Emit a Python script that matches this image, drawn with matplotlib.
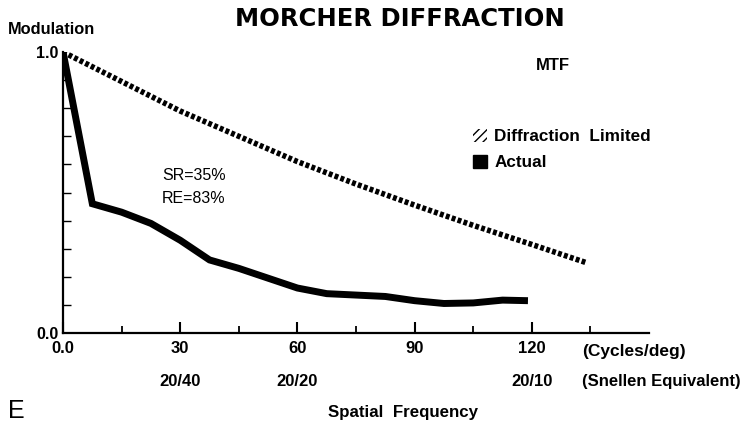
import matplotlib
matplotlib.use('Agg')
import matplotlib.pyplot as plt
import matplotlib.patches as mpatches
import matplotlib.transforms as mtransforms

# data
freq_diff = [0, 15, 30, 45, 60, 75, 90, 105, 120, 134]
mtf_diff = [1.0, 0.895, 0.79, 0.70, 0.61, 0.53, 0.455, 0.383, 0.315, 0.25]

freq_actual = [0, 7.5, 15, 22.5, 30, 37.5, 45, 52.5, 60, 67.5, 75, 82.5, 90, 97.5, 105, 112.5, 119]
mtf_actual = [1.0, 0.46, 0.43, 0.39, 0.33, 0.26, 0.23, 0.195, 0.16, 0.14, 0.135, 0.13, 0.115,
              0.105, 0.107, 0.117, 0.115]

xticks = [0, 30, 60, 90, 120]
xtick_labels = ['0.0', '30', '60', '90', '120']
snellen_pos = [30, 60, 120]
snellen_labels = ['20/40', '20/20', '20/10']

sans = ['Liberation Sans', 'DejaVu Sans']
bold = {'family': sans, 'weight': 'bold'}

fig = plt.figure(figsize=(7.53, 4.30), dpi=100)
axe = fig.add_axes([0.0837, 0.2256, 0.7783, 0.6534])

axe.plot(freq_diff, mtf_diff, color='black', linewidth=4.0, dashes=(0.7, 0.42),
         dash_capstyle='butt')
axe.plot(freq_actual, mtf_actual, color='black', linewidth=5.0,
         solid_joinstyle='miter', solid_capstyle='butt')

axe.set_xlim(0, 150)
axe.set_ylim(0, 1.0)
for s in ['top', 'right']:
    axe.spines[s].set_visible(False)
axe.spines['left'].set_linewidth(1.6)
axe.spines['bottom'].set_linewidth(1.6)

axe.set_xticks(xticks)
axe.set_xticklabels(xtick_labels, fontdict=bold, fontsize=12)
axe.set_xticks([15, 45, 75, 105, 135], minor=True)
axe.tick_params(axis='x', which='major', direction='in', length=8, width=1.5, pad=6)
axe.tick_params(axis='x', which='minor', direction='in', length=5, width=1.3)

axe.set_yticks([0.0, 1.0])
axe.set_yticklabels(['0.0', '1.0'], fontdict=bold, fontsize=11.5)
axe.set_yticks([0.1 * i for i in range(1, 10)], minor=True)
axe.tick_params(axis='y', which='major', direction='in', length=0, pad=3)
axe.tick_params(axis='y', which='minor', direction='in', length=6, width=1.0)

# snellen row and unit labels
trans = mtransforms.blended_transform_factory(axe.transData, axe.transAxes)
for p, lab in zip(snellen_pos, snellen_labels):
    axe.text(p, -0.172, lab, transform=trans, ha='center', va='center', fontsize=12, **bold)
axe.text(0.886, -0.066, '(Cycles/deg)', transform=axe.transAxes, ha='left', va='center',
         fontsize=12.5, **bold)
axe.text(0.886, -0.172, '(Snellen Equivalent)', transform=axe.transAxes, ha='left', va='center',
         fontsize=12, **bold)

axe.text(162 / 753, 1 - 176 / 430, 'SR=35%', transform=fig.transFigure, ha='left', va='center',
         fontsize=11.5, family=sans)
axe.text(162 / 753, 1 - 198 / 430, 'RE=83%', transform=fig.transFigure, ha='left', va='center',
         fontsize=11.5, family=sans)

# legend
h1 = mpatches.Patch(facecolor='white', edgecolor='black', hatch='////', linewidth=0)
h2 = mpatches.Patch(facecolor='black', edgecolor='black')
leg = axe.legend([h1, h2], ['Diffraction  Limited', 'Actual'], loc='upper left',
                 bbox_to_anchor=(473 / 753, 1 - 129 / 430), bbox_transform=fig.transFigure,
                 frameon=False, handlelength=0.8, handleheight=0.8, handletextpad=0.45,
                 labelspacing=0.6, borderpad=0, borderaxespad=0,
                 prop={'family': sans, 'weight': 'bold', 'size': 12.3})

fig.text(0.531, 1 - 19 / 430, 'MORCHER DIFFRACTION', ha='center', va='center', fontsize=17.5,
         family=['DejaVu Sans'], weight='heavy')
fig.text(8 / 753, 1 - 30 / 430, 'Modulation', ha='left', va='center', fontsize=11.8, **bold)
fig.text(553 / 753, 1 - 65 / 430, 'MTF', ha='center', va='center', fontsize=12, **bold)
fig.text(8 / 753, 1 - 411 / 430, 'E', ha='left', va='center', fontsize=18, family=sans)
fig.text(403 / 753, 1 - 412 / 430, 'Spatial  Frequency', ha='center', va='center', fontsize=12.2,
         **bold)

fig.savefig('out.png', dpi=100)
plt.close()
